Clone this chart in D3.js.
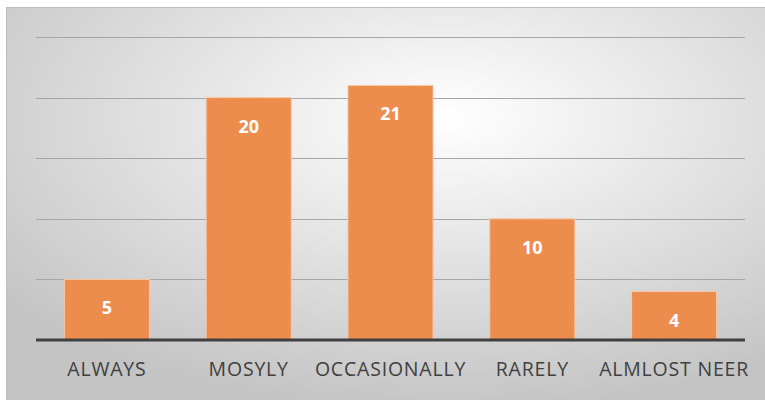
<!DOCTYPE html>
<html>
<head>
<meta charset="utf-8">
<script src="https://cdn.jsdelivr.net/npm/d3@7"></script>
<style>
  body { margin: 0; background: #fff; }
  svg { display: block; }
</style>
</head>
<body>
<script>
// chart data
var categories = ['ALWAYS', 'MOSYLY', 'OCCASIONALLY', 'RARELY', 'ALMLOST NEER'];
var counts = [5, 20, 21, 10, 4];
var gridTicks = [0, 5, 10, 15, 20, 25];

var width = 765, height = 400;
var plot = {left: 36, right: 745, top: 37, bottom: 340};

var svg = d3.select('body').append('svg')
    .attr('width', width)
    .attr('height', height);

// radial background like the office chart style
var grad = svg.append('defs').append('radialGradient')
    .attr('id', 'bg')
    .attr('cx', '58%').attr('cy', '28%').attr('r', '75%');
grad.append('stop').attr('offset', '0%').attr('stop-color', '#ffffff');
grad.append('stop').attr('offset', '100%').attr('stop-color', '#c4c4c4');

svg.append('rect')
    .attr('x', 6.5).attr('y', 7.5)
    .attr('width', width - 6).attr('height', height - 7)
    .attr('fill', 'url(#bg)')
    .attr('stroke', '#bdbdbd')
    .attr('stroke-width', 1);

var x = d3.scaleBand().domain(categories).range([plot.left, plot.right]).paddingInner(0.4).paddingOuter(0.2);
var y = d3.scaleLinear().domain([0, 25]).range([plot.bottom, plot.top]);

// gridlines
svg.append('g').selectAll('line')
    .data(gridTicks.filter(d => d > 0))
    .join('line')
    .attr('x1', plot.left).attr('x2', plot.right)
    .attr('y1', d => Math.round(y(d)) + 0.5).attr('y2', d => Math.round(y(d)) + 0.5)
    .attr('stroke', '#a6a6a6')
    .attr('stroke-width', 1);

// bars
svg.append('g').selectAll('rect')
    .data(counts)
    .join('rect')
    .attr('x', (d, i) => x(categories[i]))
    .attr('y', d => y(d))
    .attr('width', x.bandwidth())
    .attr('height', d => y(0) - y(d))
    .attr('fill', '#ed8d4d')
    .attr('stroke', '#f6c9a8')
    .attr('stroke-width', 1);

// value labels
svg.append('g').selectAll('text')
    .data(counts)
    .join('text')
    .attr('x', (d, i) => x(categories[i]) + x.bandwidth() / 2)
    .attr('y', d => y(d) + 35)
    .attr('text-anchor', 'middle')
    .attr('font-family', 'Open Sans, sans-serif')
    .attr('font-weight', 'bold')
    .attr('font-size', 18)
    .attr('fill', '#ffffff')
    .text(d => d);

// baseline
svg.append('line')
    .attr('x1', plot.left).attr('x2', plot.right)
    .attr('y1', plot.bottom).attr('y2', plot.bottom)
    .attr('stroke', '#404040')
    .attr('stroke-width', 3);

// category axis
var xAxis = svg.append('g')
    .attr('transform', 'translate(0,' + plot.bottom + ')')
    .call(d3.axisBottom(x).tickSize(0).tickPadding(22));
xAxis.select('.domain').remove();
xAxis.selectAll('text')
    .attr('font-family', 'Open Sans, sans-serif')
    .attr('font-size', 19.5)
    .attr('letter-spacing', 0.8)
    .attr('fill', '#404040');
</script>
</body>
</html>
